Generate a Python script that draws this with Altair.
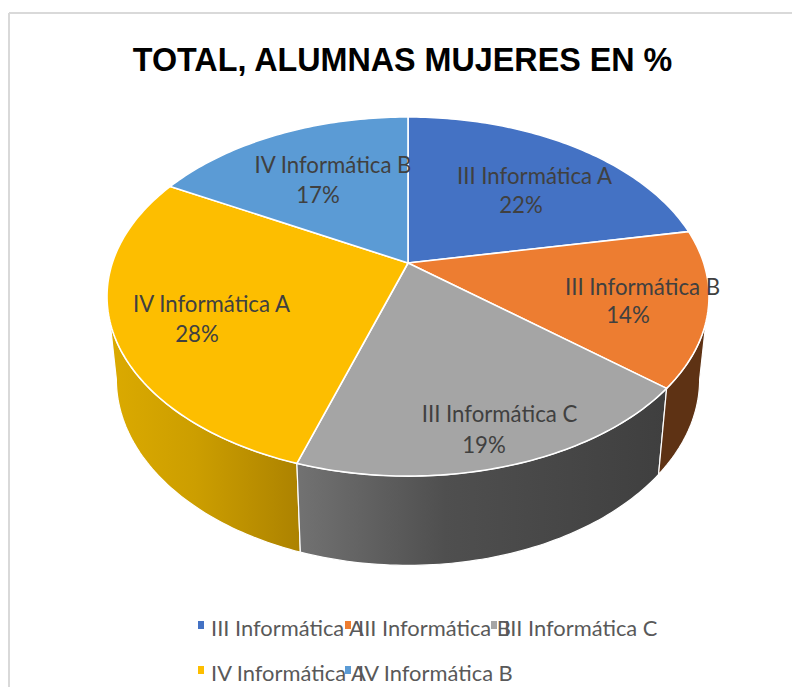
import math
import altair as alt
import pandas as pd

# ---- chart values
labels = ["III Informática A", "III Informática B", "III Informática C", "IV Informática A", "IV Informática B"]
values = [22, 14, 19, 28, 17]
pct_text = ["22%", "14%", "19%", "28%", "17%"]
colors = ["#4472C4", "#ED7D31", "#A5A5A5", "#FDBE00", "#5B9BD5"]
title_text = "TOTAL, ALUMNAS MUJERES EN %"

# ---- layout (page pixels)
W, H = 784, 679
OX, OY = 8, 8
APEX_X, APEX_Y = 408, 263
K, A, B = 0.1867, 295.7, 173.3
A2, B2, BOT_Y = 286.5, 179.6, 344.5
WALL_START, WALL_END = 108.7, 251.3
BOT_START, BOT_END = 100.8, 259.2

x_scale = alt.Scale(domain=[OX, OX + W], range=[0, W], nice=False, zero=False)
y_scale = alt.Scale(domain=[OY + H, OY], range=[H, 0], nice=False, zero=False)
X = alt.X("x:Q", scale=x_scale, axis=None)
Y = alt.Y("y:Q", scale=y_scale, axis=None)


def top(t):
    u, v = math.sin(math.radians(t)), math.cos(math.radians(t))
    d = 1 + K * v
    return APEX_X + A * u / d, APEX_Y - B * v / d


def bottom(t):
    u, v = math.sin(math.radians(t)), math.cos(math.radians(t))
    d = 1 + K * v
    return APEX_X + A2 * u / d, BOT_Y - B2 * v / d


def sweep(a, b, fn):
    n = max(2, int(abs(b - a) / 1.0))
    return [fn(a + (b - a) * i / n) for i in range(n + 1)]


def poly(points, fill, stroke_width=1.6):
    df = pd.DataFrame(points, columns=["x", "y"])
    df["i"] = range(len(df))
    return alt.Chart(df).mark_line(
        fill=fill, stroke="white", strokeWidth=stroke_width, strokeJoin="round"
    ).encode(x=X, y=Y, order="i:Q")


total = sum(values)
edges = [0]
for val in values:
    edges.append(edges[-1] + val / total * 360)


def grad(stops):
    return alt.Gradient(
        gradient="linear", x1=0, x2=1, y1=0, y2=0,
        stops=[alt.GradientStop(offset=o, color=c) for o, c in stops],
    )


layers = []

# walls
yellow_wall = sweep(edges[3], WALL_END, top) + sweep(BOT_END, edges[3], bottom)
gray_wall = sweep(edges[2], edges[3], top) + sweep(edges[3], edges[2], bottom)
orange_wall = sweep(WALL_START, edges[2], top) + sweep(edges[2], BOT_START, bottom)
for pts, fill in [
    (yellow_wall, grad([(0, "#DBAA00"), (0.45, "#CC9E00"), (1, "#AC8200")])),
    (gray_wall, grad([(0, "#727272"), (0.4, "#4F4F4F"), (1, "#3F3F3F")])),
    (orange_wall, "#5E3214"),
]:
    layers.append(poly(pts + [pts[0]], fill, 1.2))

# top face
for s, c in enumerate(colors):
    apex = (APEX_X, APEX_Y)
    layers.append(poly([apex] + sweep(edges[s], edges[s + 1], top) + [apex], c, 1.6))

# slice labels
label_pos = [(534.5, 177), (642.5, 288), (499.5, 415), (211.5, 305), (333, 166)]
pct_pos = [(521, 206), (628, 316), (484, 446), (197, 335), (318, 196)]
lab_df = pd.DataFrame({
    "t": labels + pct_text,
    "x": [p[0] for p in label_pos] + [p[0] for p in pct_pos],
    "y": [p[1] for p in label_pos] + [p[1] for p in pct_pos],
})
layers.append(alt.Chart(lab_df).mark_text(
    font="Lato", fontSize=22.2, color="#404040", align="center", baseline="middle"
).encode(x=X, y=Y, text="t:N"))

# title
title_df = pd.DataFrame({"t": [title_text], "x": [402.5], "y": [61]})
layers.append(alt.Chart(title_df).mark_text(
    font="Liberation Sans", fontWeight="bold", fontSize=32.3, color="black", align="center", baseline="middle"
).encode(x=X, y=Y, text="t:N"))

# legend (drawn by hand because its entries overlap)
col_x = [198, 345, 491]
row_y = [621, 666]
slots = [(0, 0), (1, 0), (2, 0), (0, 1), (1, 1)]
leg = pd.DataFrame({
    "t": labels,
    "c": colors,
    "x": [col_x[c] for c, r in slots],
    "x2": [col_x[c] + 6 for c, r in slots],
    "y": [row_y[r] for c, r in slots],
    "y2": [row_y[r] + 8 for c, r in slots],
})
leg["tx"] = leg["x"] + 13
leg["ty"] = leg["y"] + 7.5
leg["mx"] = leg["x"] - 11
leg["my"] = leg["y"] - 10
leg["my2"] = leg["y"] + 4
layers.append(alt.Chart(leg).mark_text(
    font="Lato", fontSize=21.9, color="#595959", align="left", baseline="middle"
).encode(x=alt.X("tx:Q", scale=x_scale, axis=None), y=alt.Y("ty:Q", scale=y_scale, axis=None), text="t:N"))
layers.append(alt.Chart(leg[leg["x"] > 198]).mark_rect(color="white").encode(
    x=alt.X("mx:Q", scale=x_scale, axis=None), x2="x:Q",
    y=alt.Y("my:Q", scale=y_scale, axis=None), y2="my2:Q"))
layers.append(alt.Chart(leg).mark_rect().encode(
    x=alt.X("x:Q", scale=x_scale, axis=None), x2="x2:Q",
    y=alt.Y("y:Q", scale=y_scale, axis=None), y2="y2:Q",
    color=alt.Color("c:N", scale=None)))

# chart frame (top and left edges visible in the crop)
frame = pd.DataFrame({"x": [OX + 1], "x2": [OX + W], "y": [13], "y2": [OY + H]})
frame_top = alt.Chart(frame).mark_rule(color="#D9D9D9", strokeWidth=2).encode(
    x=alt.X("x:Q", scale=x_scale, axis=None), x2="x2:Q", y=alt.Y("y:Q", scale=y_scale, axis=None))
frame_left = alt.Chart(frame).mark_rule(color="#D9D9D9", strokeWidth=2).encode(
    x=alt.X("x:Q", scale=x_scale, axis=None), y=alt.Y("y:Q", scale=y_scale, axis=None), y2="y2:Q")

chart = alt.layer(frame_top, frame_left, *layers).properties(
    width=W, height=H, padding=0, background="white",
    autosize=alt.AutoSizeParams(type="none"),
).configure_view(stroke=None)

chart.save("out.html", embed_options={"renderer": "svg", "actions": False})
